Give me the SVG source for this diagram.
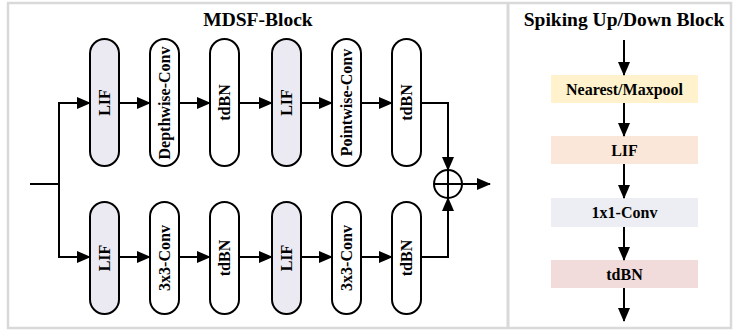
<svg xmlns="http://www.w3.org/2000/svg" width="733" height="333" viewBox="0 0 733 333">
<style>
.frame{fill:#fff;stroke:#d9d9d9;stroke-width:2.5}
.pill{fill:#fff;stroke:#000;stroke-width:2}
.lif{fill:#ebe9f2}
.t{font-family:"Liberation Serif","Times New Roman",serif;font-weight:bold;fill:#000}
.pt{font-size:16px}
.title{font-size:19.5px}
.bt{font-size:16px}
.c{fill:none;stroke:#000;stroke-width:2}
.box{stroke:none}
</style>
<defs>
<marker id="ah" markerUnits="userSpaceOnUse" markerWidth="14" markerHeight="12" refX="13" refY="6" orient="auto">
<path d="M0,0 L14,6 L0,12 Z" fill="#000"/>
</marker>
</defs>
<rect class="frame" x="8" y="3" width="723" height="325"/>
<line x1="508" y1="3" x2="508" y2="328" stroke="#d9d9d9" stroke-width="3"/>
<text class="t title" x="258" y="26" text-anchor="middle">MDSF-Block</text>
<text class="t title" x="624" y="26" text-anchor="middle">Spiking Up/Down Block</text>

<g id="top-lif1"><rect class="pill lif" x="90" y="39" width="29" height="127" rx="14.5"/><text class="t pt" transform="translate(110,102.5) rotate(-90)" text-anchor="middle">LIF</text></g>
<g id="top-dwconv"><rect class="pill" x="150" y="39" width="29" height="127" rx="14.5"/><text class="t pt" transform="translate(170,103) rotate(-90)" text-anchor="middle">Depthwise-Conv</text></g>
<g id="top-tdbn1"><rect class="pill" x="210" y="39" width="29" height="127" rx="14.5"/><text class="t pt" transform="translate(230,102.5) rotate(-90)" text-anchor="middle">tdBN</text></g>
<g id="top-lif2"><rect class="pill lif" x="272" y="39" width="29" height="127" rx="14.5"/><text class="t pt" transform="translate(292,102.5) rotate(-90)" text-anchor="middle">LIF</text></g>
<g id="top-pwconv"><rect class="pill" x="332" y="39" width="29" height="127" rx="14.5"/><text class="t pt" transform="translate(352,102.5) rotate(-90)" text-anchor="middle">Pointwise-Conv</text></g>
<g id="top-tdbn2"><rect class="pill" x="392" y="39" width="29" height="127" rx="14.5"/><text class="t pt" transform="translate(412,102.5) rotate(-90)" text-anchor="middle">tdBN</text></g>

<g id="bot-lif1"><rect class="pill lif" x="90" y="202" width="29" height="112" rx="14.5"/><text class="t pt" transform="translate(110,258) rotate(-90)" text-anchor="middle">LIF</text></g>
<g id="bot-conv1"><rect class="pill" x="150" y="202" width="29" height="112" rx="14.5"/><text class="t pt" transform="translate(170,258) rotate(-90)" text-anchor="middle">3x3-Conv</text></g>
<g id="bot-tdbn1"><rect class="pill" x="210" y="202" width="29" height="112" rx="14.5"/><text class="t pt" transform="translate(230,258) rotate(-90)" text-anchor="middle">tdBN</text></g>
<g id="bot-lif2"><rect class="pill lif" x="272" y="202" width="29" height="112" rx="14.5"/><text class="t pt" transform="translate(292,258) rotate(-90)" text-anchor="middle">LIF</text></g>
<g id="bot-conv2"><rect class="pill" x="332" y="202" width="29" height="112" rx="14.5"/><text class="t pt" transform="translate(352,258) rotate(-90)" text-anchor="middle">3x3-Conv</text></g>
<g id="bot-tdbn2"><rect class="pill" x="392" y="202" width="29" height="112" rx="14.5"/><text class="t pt" transform="translate(412,258) rotate(-90)" text-anchor="middle">tdBN</text></g>

<g id="add"><circle cx="448" cy="184" r="14" fill="#fff" stroke="#000" stroke-width="2"/><path d="M434,184 H462 M448,170 V198" stroke="#000" stroke-width="2"/></g>

<g id="sb-nearest"><rect class="box" x="551" y="75" width="147" height="28" fill="#fff2cc"/><text class="t bt" x="624.5" y="94.5" text-anchor="middle">Nearest/Maxpool</text></g>
<g id="sb-lif"><rect class="box" x="551" y="136" width="147" height="28" fill="#fbe7da"/><text class="t bt" x="624.5" y="155.5" text-anchor="middle">LIF</text></g>
<g id="sb-conv"><rect class="box" x="551" y="198" width="147" height="29" fill="#ededf4"/><text class="t bt" x="624.5" y="218" text-anchor="middle">1x1-Conv</text></g>
<g id="sb-tdbn"><rect class="box" x="551" y="260" width="147" height="28" fill="#f2dcdb"/><text class="t bt" x="624.5" y="279.5" text-anchor="middle">tdBN</text></g>

<g id="connectors">
<path class="c" d="M30,184 H59"/>
<path class="c" d="M59,184 V103 H90" marker-end="url(#ah)"/>
<path class="c" d="M59,184 V257 H90" marker-end="url(#ah)"/>
<path class="c" d="M119,103 H150" marker-end="url(#ah)"/>
<path class="c" d="M179,103 H210" marker-end="url(#ah)"/>
<path class="c" d="M239,103 H272" marker-end="url(#ah)"/>
<path class="c" d="M301,103 H332" marker-end="url(#ah)"/>
<path class="c" d="M361,103 H392" marker-end="url(#ah)"/>
<path class="c" d="M119,257 H150" marker-end="url(#ah)"/>
<path class="c" d="M179,257 H210" marker-end="url(#ah)"/>
<path class="c" d="M239,257 H272" marker-end="url(#ah)"/>
<path class="c" d="M301,257 H332" marker-end="url(#ah)"/>
<path class="c" d="M361,257 H392" marker-end="url(#ah)"/>
<path class="c" d="M421,103 H448 V170" marker-end="url(#ah)"/>
<path class="c" d="M421,257 H448 V198" marker-end="url(#ah)"/>
<path class="c" d="M462,184 H490" marker-end="url(#ah)"/>
<path class="c" d="M624,40 V75" marker-end="url(#ah)"/>
<path class="c" d="M624,103 V136" marker-end="url(#ah)"/>
<path class="c" d="M624,164 V198" marker-end="url(#ah)"/>
<path class="c" d="M624,227 V260" marker-end="url(#ah)"/>
<path class="c" d="M624,288 V321" marker-end="url(#ah)"/>
</g>
</svg>
